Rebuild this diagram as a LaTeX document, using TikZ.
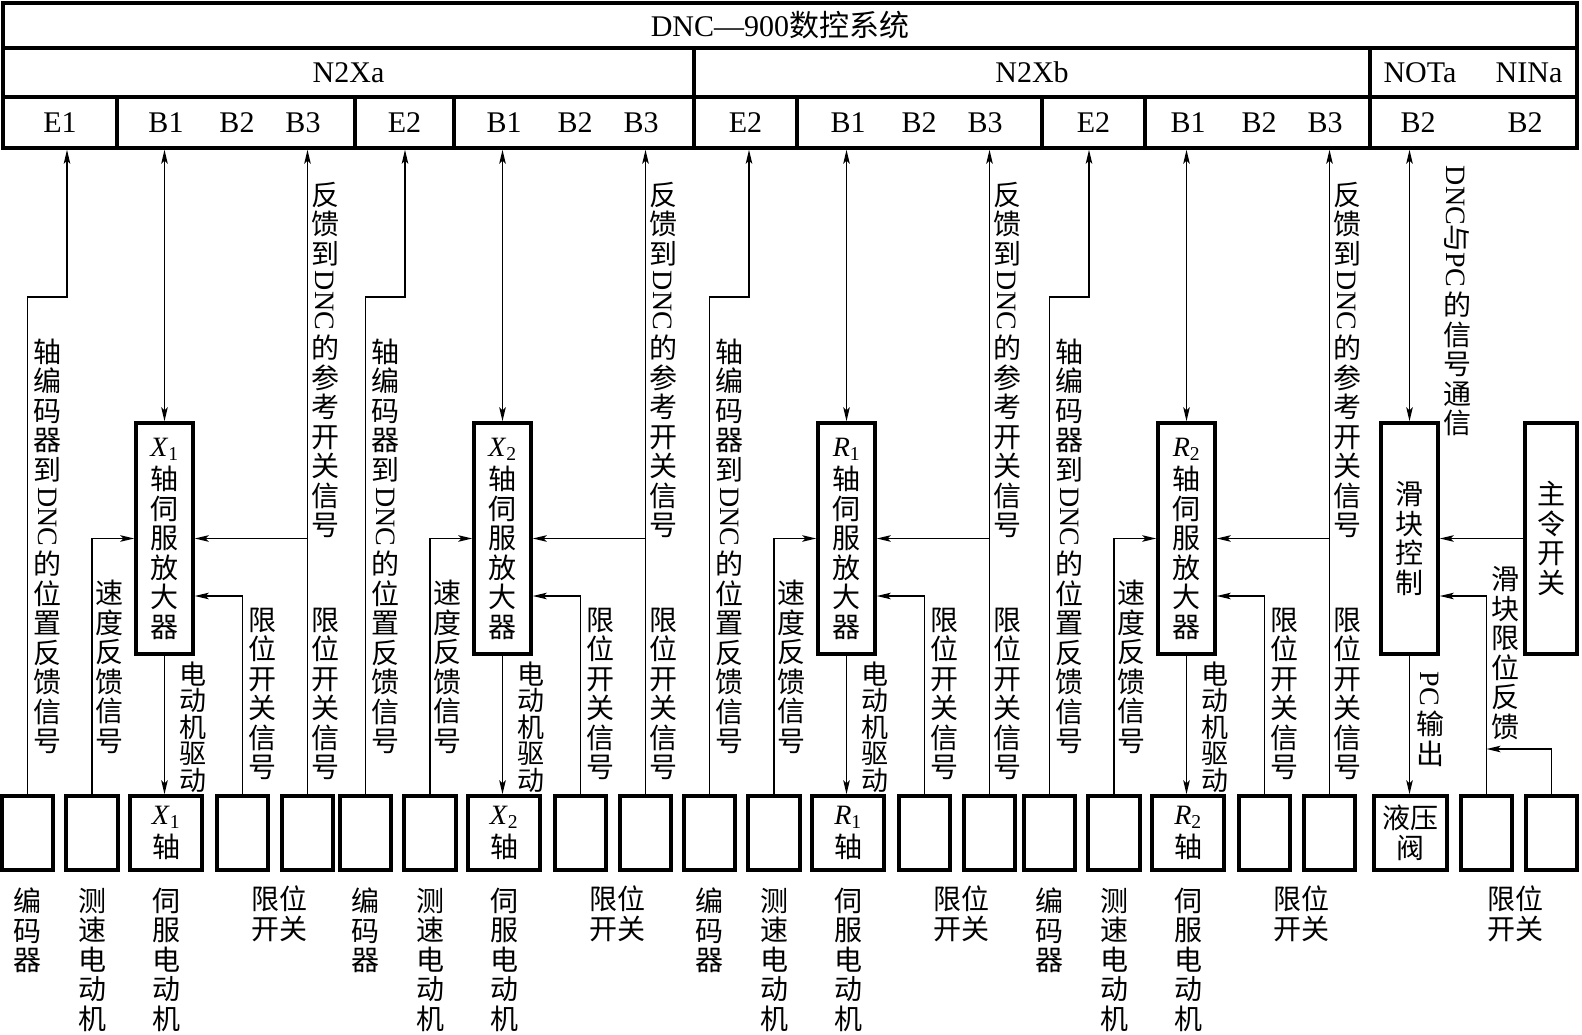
\documentclass[tikz,border=0pt]{standalone}
\usepackage{fontspec}
\setmainfont{Liberation Serif}
\newfontfamily\zh{Noto Sans CJK SC}
\usepackage{graphicx}
\usetikzlibrary{arrows.meta,positioning,fit}

\newcommand\lat[1]{{\rmfamily #1}}
\newcommand\rl[1]{\rotatebox[origin=c]{-90}{\kern4pt#1\kern4pt}}
\newcommand\axl[2]{{\rmfamily\textit{#1}\textsubscript{#2}}}
% vertical texts
\newcommand\encsig{轴\\编\\码\\器\\到\\\rl{\lat{DNC}}\\的\\位\\置\\反\\馈\\信\\号}
\newcommand\refsig{反\\馈\\到\\\rl{\lat{DNC}}\\的\\参\\考\\开\\关\\信\\号}
\newcommand\spdsig{速\\度\\反\\馈\\信\\号}
\newcommand\drvsig{电\\动\\机\\驱\\动}
\newcommand\limsig{限\\位\\开\\关\\信\\号}

\tikzset{
  cell/.style={draw, line width=3.5pt, inner sep=0pt},
  box/.style={draw, line width=3.5pt, inner sep=0pt, minimum height=74pt,
    align=center, font={\zh\fontsize{28}{29.5}\selectfont}},
  ampbox/.style={draw, line width=3.5pt, inner sep=0pt, minimum width=57pt,
    minimum height=231pt, align=center, font={\zh\fontsize{28}{29.5}\selectfont}},
  vlab/.style={inner sep=0pt, align=center, font={\zh\fontsize{28}{29.5}\selectfont}},
  hlab/.style={inner sep=0pt, font={\fontsize{30}{32}\selectfont}},
  sig/.style={line width=1.4pt},
  >={Stealth[length=14pt,width=6.5pt,inset=3pt]}
}

\begin{document}
\begin{tikzpicture}[x=1pt,y=-1pt]
\useasboundingbox (0,0) rectangle (1582,1035);

% header of the DNC
\node[cell, fit={(3,3) (1577,148)}] (hdr) {};
\node[cell, fit={(3,3) (1577,48)}] (sysrow) {};
\node[cell, fit={(3,48) (694,97)}] (n2xa) {};
\node[cell, fit={(694,48) (1370,97)}] (n2xb) {};
\node[cell, fit={(1370,48) (1577,97)}] (nio) {};
\node[cell, fit={(3,97) (117,148)}] (e1) {};
\node[cell, fit={(117,97) (355,148)}] (b1) {};
\node[cell, fit={(355,97) (454,148)}] (e2) {};
\node[cell, fit={(454,97) (694,148)}] (b2) {};
\node[cell, fit={(694,97) (797,148)}] (e3) {};
\node[cell, fit={(797,97) (1042,148)}] (b3) {};
\node[cell, fit={(1042,97) (1145,148)}] (e4) {};
\node[cell, fit={(1145,97) (1370,148)}] (b4) {};
\node[cell, fit={(1370,97) (1577,148)}] (bio) {};

\node[hlab] (tsys) at (780,25.5) {DNC—900{\zh 数控系统}};
\node[hlab] (tn2xa) at (n2xa) {N2Xa};
\node[hlab] (tn2xb) at (n2xb) {N2Xb};
\node[hlab] (tnota) at (1420,72.5) {NOTa};
\node[hlab] (tnina) at (1529,72.5) {NINa};
\node[hlab] (te1) at (e1) {E1};
\node[hlab] (te2) at (e2) {E2};
\node[hlab] (te3) at (e3) {E2};
\node[hlab] (te4) at (e4) {E2};
\node[hlab] (tbo) at (1418,122.5) {B2};
\node[hlab] (tbi) at (1525,122.5) {B2};

% the four axes
\foreach \o/\g/\L/\n in {0/1/X/1,338/2/X/2,682/3/R/1,1022/4/R/2}{
  \node[hlab] (tba\g) at ({\o+166},122.5) {B1};
  \node[hlab] (tbb\g) at ({\o+237},122.5) {B2};
  \node[hlab] (tbc\g) at ({\o+303},122.5) {B3};

  \node[ampbox] (amp\g) at ({\o+164.5},538.5) {\axl{\L}{\n}\\[4pt]轴\\伺\\服\\放\\大\\器};
  \node[box, minimum width=51pt] (enc\g) at ({\o+27.5},833) {};
  \node[box, minimum width=52pt] (tach\g) at ({\o+92},833) {};
  \node[box, minimum width=72pt] (mot\g) at ({\o+166},833) {\axl{\L}{\n}\\[4pt]轴};
  \node[box, minimum width=51pt] (lima\g) at ({\o+242.5},833) {};
  \node[box, minimum width=51pt] (limb\g) at ({\o+307.5},833) {};
  \coordinate (ej\g) at ({\o+67},297);

  \draw[sig,->] (enc\g) |- (ej\g) -- (ej\g |- hdr.south);
  \draw[sig,<->] (amp\g.north |- hdr.south) -- (amp\g.north);
  \draw[sig,->] (limb\g) -- (limb\g |- hdr.south);
  \draw[sig,->] (limb\g |- amp\g.east) -- (amp\g.east);
  \draw[sig,->] (tach\g) |- (amp\g.west);
  \draw[sig,->] (lima\g) |- ([yshift=-57.5pt]amp\g.east);
  \draw[sig,->] (amp\g.south) -- (amp\g.south |- mot\g.north);

  \node[vlab] (encl\g) at ({\o+47.5},546.5) {\encsig};
  \node[vlab] (refl\g) at ({\o+325},360) {\refsig};
  \node[vlab] (spdl\g) at ({\o+109},667) {\spdsig};
  \node[vlab, font={\zh\fontsize{27}{26.5}\selectfont}] (drvl\g) at ({\o+193},727) {\drvsig};
  \node[vlab] (limla\g) at ({\o+262},694) {\limsig};
  \node[vlab] (limlb\g) at ({\o+325},694) {\limsig};

  \node[vlab, below=16pt of enc\g] (encn\g) {编\\码\\器};
  \node[vlab, below=16pt of tach\g] (tachn\g) {测\\速\\电\\动\\机};
  \node[vlab, below=16pt of mot\g] (motn\g) {伺\\服\\电\\动\\机};
  \node[vlab, anchor=north] (limn\g) at ({\o+279},886) {限位\\开关};
}

% slider control
\node[ampbox] (slide) at (1409.5,538.5) {滑\\块\\控\\制};
\node[ampbox, minimum width=52pt] (mainsw) at (1551,538.5) {主\\令\\开\\关};
\node[box, minimum width=73pt] (valve) at (1410.5,833) {液压\\阀};
\node[box, minimum width=51pt] (slima) at (1486.5,833) {};
\node[box, minimum width=51pt] (slimb) at (1551.5,833) {};
\coordinate (sjoin) at (1486.5,749);

\draw[sig,<->] (slide.north |- hdr.south) -- (slide.north);
\draw[sig,->] (mainsw) -- (slide);
\draw[sig,->] (slide.south) -- (slide.south |- valve.north);
\draw[sig,->] (slima) |- ([yshift=-57.5pt]slide.east);
\draw[sig,->] (slimb) |- (sjoin);

\node[vlab] (comml) at (1457,299) {\rl{\lat{DNC}与\lat{PC}}\\的\\信\\号\\通\\信};
\node[vlab] (pcl) at (1430,717) {\rl{\lat{PC}}\\输\\出};
\node[vlab] (slml) at (1505,653) {滑\\块\\限\\位\\反\\馈};
\node[vlab, anchor=north] (slmn) at (1515,886) {限位\\开关};
\end{tikzpicture}
\end{document}
